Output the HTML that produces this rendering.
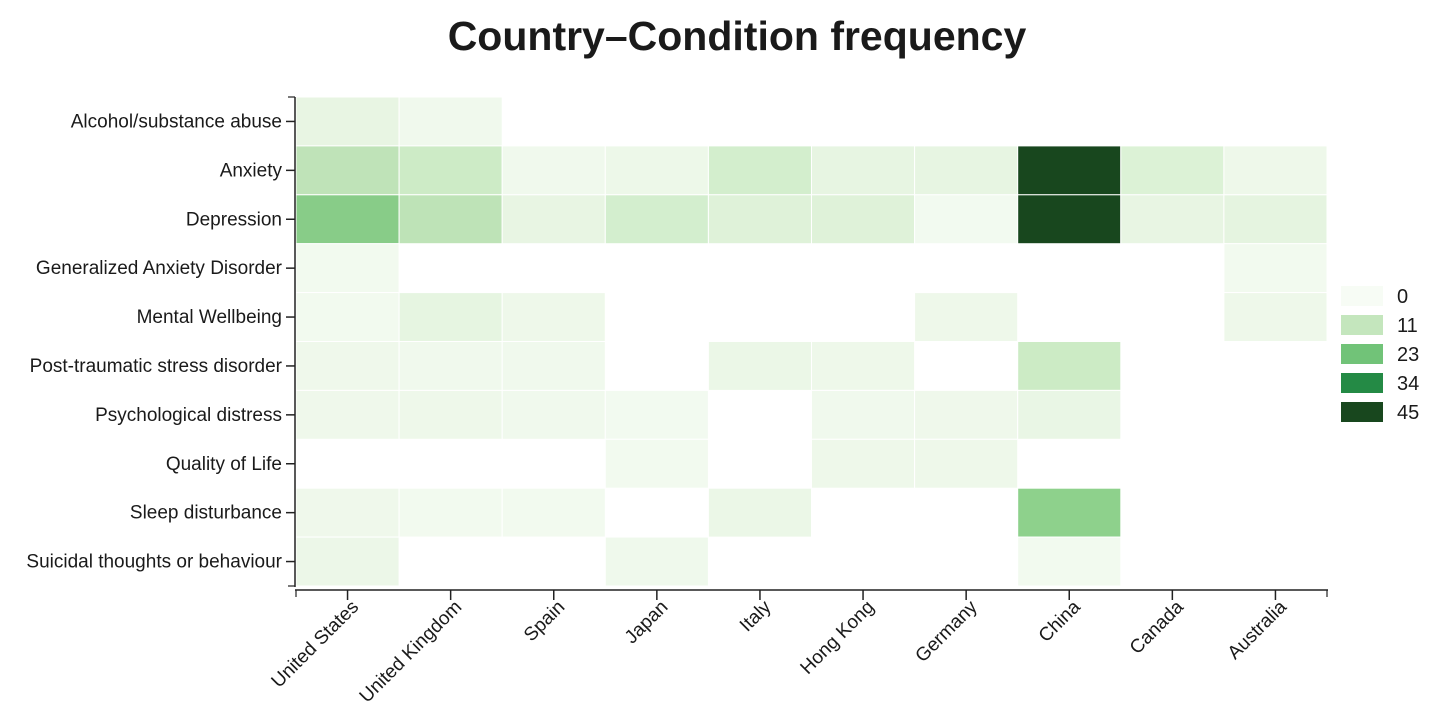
<!DOCTYPE html><html><head><meta charset="utf-8"><style>body{margin:0;background:#fff}svg{display:block;font-family:"Liberation Sans",sans-serif}</style></head><body>
<svg width="1440" height="720" xmlns="http://www.w3.org/2000/svg">
<text x="737" y="50" text-anchor="middle" font-size="41" font-weight="bold" fill="#1a1a1a">Country–Condition frequency</text>
<g id="cells" stroke="#fff" stroke-width="1"></g>
<g id="ax" fill="#1a1a1a" font-size="19"></g>
<g font-size="20" fill="#1a1a1a">
<rect x="1341" y="286" width="42" height="20" fill="#f7fcf5"/><text x="1397" y="303">0</text>
<rect x="1341" y="315" width="42" height="20" fill="#c4e6bd"/><text x="1397" y="332">11</text>
<rect x="1341" y="344" width="42" height="20" fill="#71c378"/><text x="1397" y="361">23</text>
<rect x="1341" y="373" width="42" height="20" fill="#248a45"/><text x="1397" y="390">34</text>
<rect x="1341" y="402" width="42" height="20" fill="#18471e"/><text x="1397" y="419">45</text>
</g>
<script>
const X0=296,CW=103.1,Y0=97,RH=48.9,ns="http://www.w3.org/2000/svg";
const cols=["United States","United Kingdom","Spain","Japan","Italy","Hong Kong","Germany","China","Canada","Australia"];
const rows=["Alcohol/substance abuse","Anxiety","Depression","Generalized Anxiety Disorder","Mental Wellbeing","Post-traumatic stress disorder","Psychological distress","Quality of Life","Sleep disturbance","Suicidal thoughts or behaviour"];
const d=[
["#e8f5e3","#f0f9ed",0,0,0,0,0,0,0,0],
["#bfe3b8","#cdebc6","#f0f9ed","#edf8e9","#d3eecd","#e7f5e2","#e7f5e2","#18471e","#dcf2d6","#eef8ea"],
["#88cc88","#bee3b7","#e8f5e3","#d3eece","#dff2d9","#dff2d9","#f2faf0","#18471e","#e8f5e3","#e5f4e0"],
["#f2faef",0,0,0,0,0,0,0,0,"#f2faef"],
["#f2faef","#e6f5e1","#eef8ea",0,0,0,"#eef8ea",0,0,"#eef8ea"],
["#eff8eb","#f0f9ed","#f0f9ed",0,"#ebf7e7","#eef8ea",0,"#ccebc5",0,0],
["#eff8eb","#eef8ea","#f0f9ed","#f2faf0",0,"#f0f9ed","#eff8eb","#e9f6e5",0,0],
[0,0,0,"#f2faef",0,"#eef8ea","#eef8ea",0,0,0],
["#eff8eb","#f2faef","#f2faef",0,"#ebf7e7",0,0,"#8ed18c",0,0],
["#ecf7e8",0,0,"#eff9ec",0,0,0,"#f2faef",0,0]];
const g=document.getElementById("cells"),a=document.getElementById("ax");
function el(t,at,p,txt){const e=document.createElementNS(ns,t);for(const k in at)e.setAttribute(k,at[k]);if(txt)e.textContent=txt;p.appendChild(e);return e;}
d.forEach((r,j)=>r.forEach((c,i)=>{if(c)el("rect",{x:X0+i*CW,y:Y0+j*RH,width:CW,height:RH,fill:c},g);}));
el("line",{x1:295,y1:97,x2:295,y2:587,stroke:"#222","stroke-width":1.5},a);
el("line",{x1:295,y1:590,x2:1328,y2:590,stroke:"#222","stroke-width":1.5},a);
[97,586].forEach(y=>el("line",{x1:288,y1:y,x2:295,y2:y,stroke:"#222","stroke-width":1.2},a));
rows.forEach((r,j)=>{const y=Y0+(j+.5)*RH;el("line",{x1:286,y1:y,x2:295,y2:y,stroke:"#222","stroke-width":1.5},a);el("text",{x:282,y:y+6,"text-anchor":"end"},a,r);});
[296,1327].forEach(x=>el("line",{x1:x,y1:590,x2:x,y2:597,stroke:"#222","stroke-width":1.2},a));
cols.forEach((c,i)=>{const x=X0+(i+.5)*CW;el("line",{x1:x,y1:590,x2:x,y2:600,stroke:"#222","stroke-width":1.5},a);el("text",{x:x+12,y:608,"text-anchor":"end",transform:`rotate(-45 ${x+12} 608)`},a,c);});
</script>
</svg></body></html>
